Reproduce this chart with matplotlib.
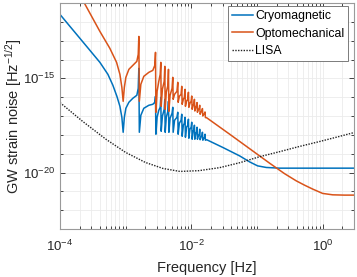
import numpy as np
import matplotlib
matplotlib.use('Agg')
import matplotlib.pyplot as plt
from matplotlib.ticker import LogLocator, NullFormatter, LogFormatterMathtext

plt.rcParams['font.family'] = ['Liberation Sans', 'DejaVu Sans']
plt.rcParams['mathtext.fontset'] = 'custom'
plt.rcParams['mathtext.rm'] = 'Liberation Sans'
plt.rcParams['mathtext.it'] = 'Liberation Sans:italic'
plt.rcParams['mathtext.bf'] = 'Liberation Sans:bold'

# values (frequency in Hz, strain noise in Hz^-1/2)
cryo_f = [1e-4, 1.419e-4, 2.014e-4, 2.857e-4, 4.05e-4, 5.363e-4, 6.39e-4, 7.35e-4, 8.17e-4, 8.75e-4,
          9.16e-4, 9.55e-4, 1.007e-3, 1.119e-3, 1.286e-3, 1.479e-3, 1.554e-3, 1.587e-3, 1.615e-3, 1.702e-3,
          1.89e-3, 2.253e-3, 2.591e-3, 2.779e-3, 2.847e-3, 2.887e-3, 3.011e-3, 3.195e-3, 3.355e-3, 3.428e-3,
          3.475e-3, 3.625e-3, 3.86e-3, 3.942e-3, 3.998e-3, 4.155e-3, 4.395e-3, 4.487e-3, 4.55e-3, 4.746e-3,
          5.089e-3, 5.215e-3, 5.289e-3, 5.555e-3, 6.04e-3, 6.214e-3, 6.30e-3, 6.57e-3, 6.98e-3, 7.145e-3,
          7.25e-3, 7.56e-3, 7.83e-3, 8.02e-3, 8.13e-3, 8.45e-3, 8.82e-3, 9.03e-3, 9.16e-3, 9.52e-3,
          9.93e-3, 1.014e-2, 1.029e-2, 1.065e-2, 1.095e-2, 1.114e-2, 1.13e-2, 1.17e-2, 1.199e-2, 1.221e-2,
          1.238e-2, 1.282e-2, 1.318e-2, 1.342e-2, 1.361e-2, 1.41e-2, 1.449e-2, 1.475e-2, 1.496e-2, 1.549e-2,
          1.587e-2, 1.615e-2, 1.638e-2, 1.714e-2, 3.03e-2, 5.44e-2, 7.72e-2, 0.1021, 0.1385, 0.2207, 3.26]
cryo_h = [2.47e-12, 5.70e-13, 1.32e-13, 3.05e-14, 7.05e-15, 1.63e-15, 4.26e-16, 1.11e-16, 3.28e-17, 8.57e-18,
          1.37e-18, 8.57e-18, 2.57e-17, 5.35e-17, 8.71e-17, 1.26e-16, 2.95e-16, 3.39e-15, 1.37e-18, 1.09e-17,
          2.57e-17, 3.71e-17, 4.19e-17, 5.35e-17, 1.11e-16, 1.08e-18, 8.57e-18, 2.01e-17, 2.90e-17, 9.84e-17,
          1.55e-18, 9.68e-18, 2.28e-17, 7.71e-17, 1.37e-18, 8.57e-18, 1.78e-17, 6.04e-17, 1.37e-18, 7.59e-18,
          1.40e-17, 2.90e-17, 1.37e-18, 5.94e-18, 8.57e-18, 1.58e-17, 1.08e-18, 4.12e-18, 5.94e-18, 1.24e-17,
          8.43e-19, 3.23e-18, 4.12e-18, 8.57e-18, 7.46e-19, 2.53e-18, 3.23e-18, 6.71e-18, 6.61e-19, 1.98e-18,
          2.53e-18, 4.66e-18, 5.85e-19, 1.55e-18, 1.86e-18, 3.23e-18, 5.85e-19, 1.22e-18, 1.37e-18, 2.53e-18,
          5.85e-19, 9.53e-19, 1.08e-18, 1.98e-18, 5.50e-19, 7.94e-19, 8.43e-19, 1.37e-18, 5.18e-19, 6.61e-19,
          7.02e-19, 1.08e-18, 5.18e-19, 5.50e-19, 2.12e-19, 7.62e-20, 3.66e-20, 2.25e-20, 1.85e-20, 1.70e-20, 1.70e-20]

opto_f = [1e-4, 2.32e-4, 4.05e-4, 5.75e-4, 7.27e-4, 8.17e-4, 8.75e-4, 9.16e-4, 9.55e-4, 1.007e-3,
          1.119e-3, 1.286e-3, 1.479e-3, 1.554e-3, 1.587e-3, 1.615e-3, 1.702e-3, 1.89e-3, 2.253e-3, 2.591e-3,
          2.779e-3, 2.847e-3, 2.887e-3, 3.011e-3, 3.195e-3, 3.355e-3, 3.428e-3, 3.475e-3, 3.625e-3, 3.86e-3,
          3.942e-3, 3.998e-3, 4.155e-3, 4.395e-3, 4.487e-3, 4.55e-3, 4.746e-3, 5.089e-3, 5.215e-3, 5.289e-3,
          5.555e-3, 6.04e-3, 6.214e-3, 6.30e-3, 6.57e-3, 6.98e-3, 7.145e-3, 7.25e-3, 7.56e-3, 7.83e-3,
          8.02e-3, 8.13e-3, 8.45e-3, 8.82e-3, 9.03e-3, 9.16e-3, 9.52e-3, 9.93e-3, 1.014e-2, 1.029e-2,
          1.065e-2, 1.095e-2, 1.114e-2, 1.13e-2, 1.17e-2, 1.199e-2, 1.221e-2, 1.238e-2, 1.282e-2, 1.318e-2,
          1.342e-2, 1.361e-2, 1.41e-2, 1.449e-2, 1.475e-2, 1.496e-2, 1.549e-2, 1.587e-2, 1.615e-2, 1.638e-2,
          1.714e-2, 3.835e-2, 7.72e-2, 0.1554, 0.2627, 0.3957, 0.529, 0.707, 1.0, 1.42, 2.14, 3.26]
opto_h = [2.02e-9, 1.07e-11, 3.10e-13, 3.89e-14, 7.05e-15, 1.63e-15, 3.34e-16, 6.04e-17, 3.34e-16, 1.13e-15,
          3.00e-15, 4.89e-15, 7.96e-15, 1.87e-14, 1.68e-13, 6.04e-17, 4.81e-16, 1.28e-15, 2.08e-15, 2.65e-15,
          4.89e-15, 2.39e-14, 1.58e-17, 2.05e-16, 6.93e-16, 1.63e-15, 7.05e-15, 3.28e-17, 2.61e-16, 6.93e-16,
          4.33e-15, 2.28e-17, 1.81e-16, 4.26e-16, 3.00e-15, 1.78e-17, 1.26e-16, 2.95e-16, 1.13e-15, 7.71e-17,
          1.42e-16, 2.05e-16, 6.14e-16, 5.35e-17, 1.11e-16, 1.42e-16, 3.77e-16, 4.19e-17, 7.71e-17, 9.84e-17,
          2.61e-16, 3.28e-17, 6.04e-17, 7.71e-17, 1.81e-16, 2.90e-17, 4.73e-17, 6.04e-17, 1.15e-16, 2.28e-17,
          3.71e-17, 4.45e-17, 7.71e-17, 1.85e-17, 2.90e-17, 3.49e-17, 5.15e-17, 1.58e-17, 2.28e-17, 2.57e-17,
          3.71e-17, 1.24e-17, 1.68e-17, 1.78e-17, 2.48e-17, 1.00e-17, 1.24e-17, 1.31e-17, 1.64e-17, 8.26e-18,
          8.05e-18, 1.08e-18, 1.84e-19, 3.13e-20, 8.68e-21, 3.61e-21, 2.13e-21, 1.31e-21, 7.74e-22, 6.53e-22,
          6.30e-22, 6.30e-22]

lisa_f = [1e-4, 2.2e-4, 5e-4, 1e-3, 2e-3, 3.7e-3, 6.7e-3, 1.3e-2, 2.7e-2, 5.5e-2, 0.11, 0.22, 0.44, 0.9, 1.8, 3.0]
lisa_h = [5.15e-17, 5.26e-18, 5.85e-19, 1.16e-19, 3.41e-20, 1.64e-20, 1.14e-20, 1.25e-20, 1.81e-20, 3.33e-20,
          6.92e-20, 1.27e-19, 2.40e-19, 4.42e-19, 8.24e-19, 1.32e-18]

fig = plt.figure(figsize=(3.57, 2.77), dpi=100)
ax = fig.add_axes([60/357, 48/277, 294/357, 226/277])

ax.loglog(cryo_f, cryo_h, color='#0072BD', lw=1.1, label='Cryomagnetic')
ax.loglog(opto_f, opto_h, color='#D95319', lw=1.1, label='Optomechanical')
ax.loglog(lisa_f, lisa_h, color='#222222', lw=1.0, ls=(0, (1, 1)), label='LISA')

ax.set_xlim(1e-4, 3)
ax.set_ylim(1e-23, 1e-11)
ax.set_xticks([1e-4, 1e-2, 1e0])
ax.xaxis.set_minor_locator(LogLocator(base=10, subs=np.arange(1, 10), numticks=20))
ax.xaxis.set_minor_formatter(NullFormatter())
ax.set_yticks([1e-20, 1e-15])
ax.yaxis.set_minor_locator(LogLocator(base=10, subs=(1.0,), numticks=30))
ax.yaxis.set_minor_formatter(NullFormatter())
ax.xaxis.set_major_formatter(LogFormatterMathtext())
ax.yaxis.set_major_formatter(LogFormatterMathtext())

ax.grid(True, which='both', color='#ebebeb', lw=0.6)
ax.set_axisbelow(True)
ax.tick_params(which='both', direction='in', top=True, right=True, colors='#262626',
               labelsize=9.5, width=0.6)
ax.tick_params(axis='x', which='major', pad=7)
ax.tick_params(which='major', length=3.5)
ax.tick_params(which='minor', length=2)
for s in ax.spines.values():
    s.set_color('#9a9a9a')
    s.set_linewidth(0.8)

ax.set_xlabel('Frequency [Hz]', fontsize=10.5, color='#262626', labelpad=5)
ax.set_ylabel('GW strain noise [Hz$^{-1/2}$]', fontsize=10.5, color='#262626', labelpad=-1)

leg = ax.legend(loc='upper right', bbox_to_anchor=(0.98, 0.985), borderaxespad=0,
                fontsize=8.8, handlelength=1.7, handletextpad=0.2, labelspacing=0.45,
                borderpad=0.3, fancybox=False, framealpha=1)
leg.get_frame().set_edgecolor('#666666')
leg.get_frame().set_linewidth(0.6)

fig.savefig('out.png', dpi=100)
